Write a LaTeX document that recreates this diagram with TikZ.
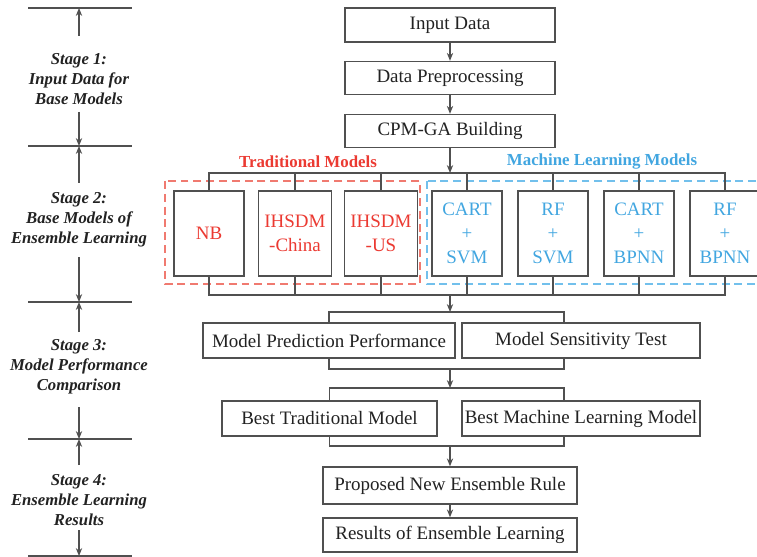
\documentclass[tikz,border=0pt]{standalone}
\usepackage{fontspec}
\setmainfont{Liberation Serif}
\usetikzlibrary{arrows.meta, positioning, calc}
\definecolor{tmRed}{HTML}{EB3A32}
\definecolor{tmRedDash}{HTML}{F07A70}
\definecolor{mlBlue}{HTML}{42A6E0}
\definecolor{mlBlueDash}{HTML}{72C0EC}
\definecolor{boxLine}{HTML}{505050}
\definecolor{inkDark}{HTML}{222222}

\tikzset{
  procbox/.style={rectangle, draw=boxLine, line width=0.8pt, fill=white,
    inner xsep=1pt, align=center, text=inkDark,
    font=\fontsize{10.8}{13}\selectfont},
  modelbox/.style={rectangle, draw=boxLine, line width=0.8pt,
    minimum width=1.4cm, minimum height=1.7cm, align=center,
    font=\fontsize{10.8}{13.6}\selectfont},
  grouplabel/.style={font=\fontsize{9.6}{11}\selectfont\bfseries},
  groupframe/.style={line width=0.8pt, dash pattern=on 4.5pt off 2.8pt},
  stagetext/.style={inner sep=0pt, align=center, text=inkDark,
    font=\fontsize{9.5}{11.4}\selectfont\bfseries\itshape},
  link/.style={draw=boxLine, line width=0.7pt},
  flow/.style={link, -{Stealth[length=4.5pt, width=3.6pt]}},
}

\begin{document}
\begin{tikzpicture}[x=0.02cm, y=-0.02cm]
  \useasboundingbox (0,0) rectangle (757,557);

  % main flow on top
  \node[procbox, minimum width=4.2cm, minimum height=0.68cm] (input) at (450,25) {Input Data};
  \node[procbox, minimum width=4.2cm, minimum height=0.66cm] (prep) at (450,78) {Data Preprocessing};
  \node[procbox, minimum width=4.2cm, minimum height=0.66cm] (cpm) at (450,131) {CPM-GA Building};
  \draw[flow] (input) -- (prep);
  \draw[flow] (prep) -- (cpm);

  % base models
  \draw[groupframe, tmRedDash] (165,181) rectangle (420,284);
  \draw[groupframe, mlBlueDash] (427,181) rectangle (790,284);
  \node[grouplabel, text=tmRed] (tradlbl) at (308,162) {Traditional Models};
  \node[grouplabel, text=mlBlue] (mllbl) at (602,162) {Machine Learning Models};

  \node[modelbox, text=tmRed] (nb) at (209,233.5) {NB};
  \node[modelbox, text=tmRed] (china) at (295,233.5) {IHSDM\\-China};
  \node[modelbox, text=tmRed] (us) at (381,233.5) {IHSDM\\-US};
  \node[modelbox, text=mlBlue] (cartsvm) at (467,233.5) {CART\\+\\SVM};
  \node[modelbox, text=mlBlue] (rfsvm) at (553,233.5) {RF\\+\\SVM};
  \node[modelbox, text=mlBlue] (cartbp) at (639,233.5) {CART\\+\\BPNN};
  \node[modelbox, text=mlBlue] (rfbp) at (725,233.5) {RF\\+\\BPNN};

  \coordinate (topbus) at (450,173);
  \coordinate (lowbus) at (450,295);
  \draw[flow] (cpm) -- (topbus);
  \draw[link] (nb.north) |- (rfbp.north |- topbus) -- (rfbp.north);
  \draw[link] (nb.south) |- (rfbp.south |- lowbus) -- (rfbp.south);
  \foreach \m in {china,us,cartsvm,rfsvm,cartbp} {
    \draw[link] (\m.north) -- (\m.north |- topbus);
    \draw[link] (\m.south) -- (\m.south |- lowbus);
  }

  % comparison and results
  \node[procbox, minimum width=5.04cm, minimum height=0.7cm] (pred) at (329,340.5) {Model Prediction Performance};
  \node[procbox, minimum width=4.76cm, minimum height=0.7cm] (sens) at (581,340.5) {Model Sensitivity Test};
  \node[procbox, minimum width=4.3cm, minimum height=0.7cm] (besttm) at (329.5,418.5) {Best Traditional Model};
  \node[procbox, minimum width=4.76cm, minimum height=0.7cm] (bestml) at (581,418.5) {Best Machine Learning Model};
  \node[procbox, minimum width=5.08cm, minimum height=0.74cm] (rule) at (450,485.5) {Proposed New Ensemble Rule};
  \node[procbox, minimum width=5.08cm, minimum height=0.68cm] (result) at (450,535) {Results of Ensemble Learning};

  \coordinate (rdrop) at (564,0);
  \coordinate (midA) at (450,312);
  \coordinate (midB) at (450,369);
  \coordinate (midC) at (450,388);
  \coordinate (midD) at (450,446);
  \draw[flow] (lowbus) -- (midA);
  \draw[link] (pred.north) -- (pred.north |- midA) -- (midA -| rdrop) -- (sens.north -| rdrop);
  \draw[link] (pred.south) -- (pred.south |- midB) -- (midB -| rdrop) -- (sens.south -| rdrop);
  \draw[flow] (midB) -- (midC);
  \draw[link] (besttm.north) -- (besttm.north |- midC) -- (midC -| rdrop) -- (bestml.north -| rdrop);
  \draw[link] (besttm.south) -- (besttm.south |- midD) -- (midD -| rdrop) -- (bestml.south -| rdrop);
  \draw[flow] (midD) -- (rule);
  \draw[flow] (rule) -- (result);

  % stage column on the left
  \foreach \y/\n in {8/d0,146/d1,302/d2,439/d3,556/d4} {
    \coordinate (\n) at (79,\y);
    \draw[link] (28,\y) -- (132,\y);
  }
  \node[stagetext] (s1) at (79,79) {Stage 1:\\Input Data for\\Base Models};
  \node[stagetext] (s2) at (79,220) {Stage 2:\\Base Models of\\Ensemble Learning};
  \node[stagetext] (s3) at (79,367) {Stage 3:\\Model Performance\\Comparison};
  \node[stagetext] (s4) at (79,500) {Stage 4:\\Ensemble Learning\\Results};

  \draw[flow] ($(s1.center)+(0,-43)$) -- (d0);
  \draw[flow] ($(s1.center)+(0,33)$) -- (d1);
  \draw[flow] ($(s2.center)+(0,-37)$) -- (d1);
  \draw[flow] ($(s2.center)+(0,37)$) -- (d2);
  \draw[flow] ($(s3.center)+(0,-35)$) -- (d2);
  \draw[flow] ($(s3.center)+(0,40)$) -- (d3);
  \draw[flow] ($(s4.center)+(0,-35)$) -- (d3);
  \draw[flow] ($(s4.center)+(0,30)$) -- (d4);
\end{tikzpicture}
\end{document}
